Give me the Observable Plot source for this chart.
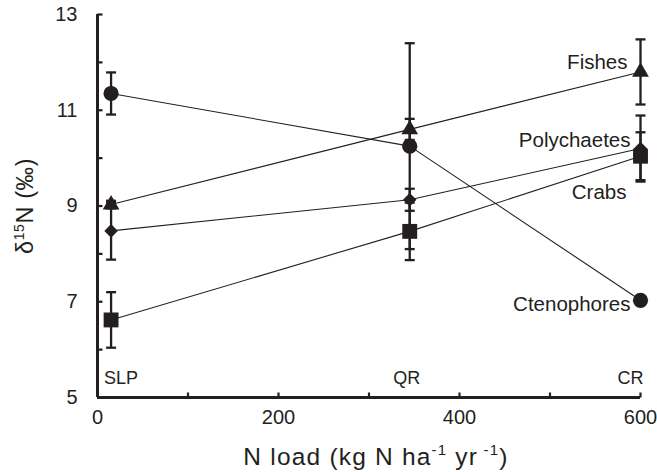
<!DOCTYPE html>
<html>
<head>
<meta charset="utf-8">
<script src="https://cdn.jsdelivr.net/npm/d3@7"></script>
<script src="https://cdn.jsdelivr.net/npm/@observablehq/plot@0.6"></script>
<style>
  html, body { margin: 0; padding: 0; background: #fff; }
  #chart svg { display: block; }
</style>
</head>
<body>
<div id="chart"></div>
<script>
// ---- data ----
const sites = ["SLP", "QR", "CR"];
const nLoad = [15, 345, 600];

const ctenophores    = [11.35, 10.25, 7.03];
const ctenophoresErr = [0.44, 2.15, 0];
const fishes         = [9.03, 10.6, 11.8];
const fishesErr      = [0.08, 0.22, 0.68];
const polychaetes    = [8.48, 9.13, 10.2];
const polychaetesErr = [0.6, 0.23, 0.69];
const crabs          = [6.62, 8.47, 10.04];
const crabsErr       = [0.58, 0.6, 0.5];

const yTicks = [5, 7, 9, 11, 13];
const yMinorTicks = [5, 6, 7, 8, 9, 10, 11, 12, 13];
const xTicks = [0, 200, 400, 600];
const xMinorTicks = [100, 200, 300, 400, 500, 600];

// ---- build tables ----
const INK = "#231f20";
const FONT = "'Liberation Sans', Arial, sans-serif";
const seriesDefs = [
  {name: "Ctenophores", values: ctenophores, err: ctenophoresErr, symbol: "circle",   r: 7.6, labelDx: -10, labelDy: 4},
  {name: "Fishes",      values: fishes,      err: fishesErr,      symbol: "triangle", r: 6.2, labelDx: -13, labelDy: -10},
  {name: "Polychaetes", values: polychaetes, err: polychaetesErr, symbol: "diamond2", r: 6.1, labelDx: -10, labelDy: -8},
  {name: "Crabs",       values: crabs,       err: crabsErr,       symbol: "square",   r: 8.4, labelDx: -14, labelDy: 36}
];
const rows = seriesDefs.flatMap(s => nLoad.map((x, i) => ({series: s.name, site: sites[i], x, y: s.values[i], err: s.err[i]})));
const errRows = rows.filter(d => d.err > 0);
const siteRows = sites.map((s, i) => ({site: s, x: nLoad[i]}));

// custom symbols: error-bar cap, inward tick marks
const cap = {draw(context) { context.moveTo(-5, 0); context.lineTo(5, 0); }};
const tickRight = {draw(context) { context.moveTo(0, 0); context.lineTo(5, 0); }};
const tickUp = {draw(context) { context.moveTo(0, 0); context.lineTo(0, -5); }};

const marks = [
  Plot.line(rows, {x: "x", y: "y", z: "series", stroke: INK, strokeWidth: 1.1}),
  Plot.ruleX(errRows, {x: "x", y1: d => d.y - d.err, y2: d => d.y + d.err, stroke: INK, strokeWidth: 2.3}),
  Plot.dot(errRows, {x: "x", y: d => d.y + d.err, symbol: cap, stroke: INK, strokeWidth: 2.3, fill: "none"}),
  Plot.dot(errRows, {x: "x", y: d => d.y - d.err, symbol: cap, stroke: INK, strokeWidth: 2.3, fill: "none"}),
  ...seriesDefs.map(s => Plot.dot(rows.filter(d => d.series === s.name), {x: "x", y: "y", symbol: s.symbol, r: s.r, fill: INK, stroke: "none"})),
  ...seriesDefs.map(s => Plot.text(rows.filter(d => d.series === s.name && d.x === nLoad[nLoad.length - 1]), {x: "x", y: "y", text: "series", textAnchor: "end", dx: s.labelDx, dy: s.labelDy, fontSize: 20.5, fill: INK})),
  Plot.text(siteRows.slice(0, 1), {x: "x", y: () => 5, text: "site", textAnchor: "start", dx: -7, dy: -19, fontSize: 18, fill: INK}),
  Plot.text(siteRows.slice(1, 2), {x: "x", y: () => 5, text: "site", textAnchor: "middle", dx: -3, dy: -19, fontSize: 18, fill: INK}),
  Plot.text(siteRows.slice(2, 3), {x: "x", y: () => 5, text: "site", textAnchor: "end", dx: 3, dy: -19, fontSize: 18, fill: INK}),
  // axes: labels
  Plot.axisY(yTicks, {tickSize: 0, tickPadding: 20, fontSize: 20, fill: INK, label: null}),
  Plot.axisX(xTicks, {tickSize: 0, tickPadding: 12, fontSize: 20, fill: INK, label: null}),
  // axes: inward tick marks
  Plot.dot(yMinorTicks, {x: () => 0, y: d => d, symbol: tickRight, stroke: INK, strokeWidth: 2.2, fill: "none"}),
  Plot.dot(xMinorTicks, {x: d => d, y: () => 5, symbol: tickUp, stroke: INK, strokeWidth: 2.2, fill: "none"}),
  // axis lines
  Plot.ruleX([0], {stroke: INK, strokeWidth: 3}),
  Plot.ruleY([5], {stroke: INK, strokeWidth: 3})
];

const chart = Plot.plot({
  width: 657,
  height: 472,
  marginLeft: 97,
  marginRight: 17,
  marginTop: 14,
  marginBottom: 75,
  x: {domain: [0, 600]},
  y: {domain: [5, 13]},
  style: {fontFamily: FONT, color: INK, background: "#fff"},
  marks
});

// axis titles with superscripts
const svg = d3.select(chart);
const xt = svg.append("text")
  .attr("x", 376).attr("y", 465)
  .attr("text-anchor", "middle")
  .style("text-anchor", "middle")
  .attr("font-family", FONT)
  .attr("font-size", 24.5)
  .attr("letter-spacing", 1.2)
  .attr("fill", INK);
xt.append("tspan").text("N load (kg N ha");
xt.append("tspan").attr("dy", -10).attr("font-size", 15).text("-1");
xt.append("tspan").attr("dy", 10).text(" yr");
xt.append("tspan").attr("dy", -10).attr("font-size", 15).text(" -1");
xt.append("tspan").attr("dy", 10).text(")");

const yt = svg.append("text")
  .attr("transform", "translate(33,254) rotate(-90)")
  .attr("text-anchor", "start")
  .style("text-anchor", "start")
  .attr("font-family", FONT)
  .attr("font-size", 23.5)
  .attr("letter-spacing", 0.6)
  .attr("fill", INK);
yt.append("tspan").text("δ");
yt.append("tspan").attr("dy", -9).attr("font-size", 14).text("15");
yt.append("tspan").attr("dy", 9).text("N (‰)");

document.getElementById("chart").appendChild(chart);
</script>
</body>
</html>
